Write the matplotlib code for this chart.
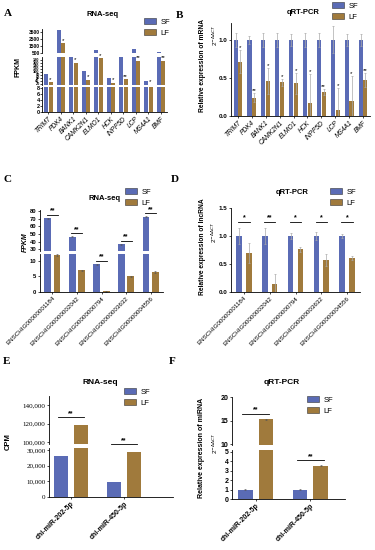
import numpy as np
import matplotlib
matplotlib.use('Agg')
import matplotlib.pyplot as plt
from matplotlib.patches import Patch

plt.rcParams['font.family'] = ['Liberation Sans', 'DejaVu Sans']
plt.rcParams['mathtext.fontset'] = 'dejavusans'

# ---- data ----
genes = ['TRIM7', 'PDK4', 'BANK1', 'CAMK2N1', 'ELMO1', 'HCK', 'INPP5D', 'LCP', 'MS4A1', 'BMF']
a_sf = [85, 3800, 260, 105, 900, 60, 230, 1100, 35, 600]
a_lf = [30, 1850, 160, 45, 190, 25, 50, 175, 9, 175]
a_sig = ['*', '*', '*', '*', '*', '*', '**', '**', '*', '**']

b_sf = [1, 1, 1, 1, 1, 1, 1, 1, 1, 1]
b_sf_err = [0.09, 0.05, 0.09, 0.09, 0.08, 0.09, 0.09, 0.18, 0.08, 0.08]
b_lf = [0.71, 0.24, 0.46, 0.44, 0.43, 0.17, 0.32, 0.08, 0.20, 0.47]
b_lf_err = [0.15, 0.06, 0.17, 0.05, 0.14, 0.38, 0.04, 0.29, 0.32, 0.09]
b_sig = ['*', '**', '*', '*', '*', '*', '**', '*', '*', '**']

lncs = ['ENSCHIG00000001184', 'ENSCHIG00000002042', 'ENSCHIG00000000794',
        'ENSCHIG00000003632', 'ENSCHIG00000004556']
c_sf = [70.5, 46.5, 8.8, 36.5, 72.5]
c_sf_err = [0.8, 0.6, 0.2, 0.8, 0.5]
c_lf = [11.8, 6.9, 0.2, 5.0, 6.4]
c_lf_err = [0.2, 0.2, 0.05, 0.2, 0.2]
c_sig = ['**', '**', '**', '**', '**']

d_sf = [1, 1, 1, 1, 1]
d_sf_err = [0.15, 0.15, 0.06, 0.08, 0.03]
d_lf = [0.69, 0.14, 0.76, 0.57, 0.61]
d_lf_err = [0.18, 0.19, 0.04, 0.10, 0.04]
d_sig = ['*', '**', '*', '*', '*']

mirnas = ['chi-miR-202-5p', 'chi-miR-450-5p']
e_sf = [26500, 9800]
e_lf = [118000, 28500]
e_sig = ['**', '**']

f_sf = [1.0, 1.0]
f_sf_err = [0.03, 0.03]
f_lf = [15.3, 3.55]
f_lf_err = [0.08, 0.04]
f_sig = ['**', '**']

SF = '#5a6bb5'
LF = '#a07a3c'

W, H = 375, 550
fig = plt.figure(figsize=(W / 100, H / 100), dpi=100)


def pax(l, t, r, b):
    return fig.add_axes([l / W, 1 - b / H, (r - l) / W, (b - t) / H])


def style(ax, bottom=True, size=4, bold=True):
    ax.spines['top'].set_visible(False)
    ax.spines['right'].set_visible(False)
    for s in ax.spines.values():
        s.set_linewidth(0.6)
    ax.tick_params(width=0.5, length=1.5, labelsize=size, pad=1)
    if bold:
        for lab in ax.get_yticklabels():
            lab.set_fontweight('bold')
    ax.set_facecolor('none')
    if not bottom:
        ax.spines['bottom'].set_visible(False)
        ax.tick_params(axis='x', bottom=False, labelbottom=False)


def px(ax, n):
    lo, hi = ax.get_ylim()
    return n * (hi - lo) / ax.bbox.height


def pick(segs, v):
    # segs ordered bottom -> top
    ch = segs[0]
    for s in segs:
        if s.get_ylim()[0] <= v:
            ch = s
    return ch


def star(segs, x, v, s, gap=0.5):
    ax = pick(segs, v)
    ax.text(x, v + px(ax, gap), s, ha='center', va='bottom', fontsize=4.5,
            clip_on=False)


def sig(segs, x0, x1, v, s, gap=4):
    ax = pick(segs, v)
    y = v + px(ax, gap)
    ax.plot([x0, x1], [y, y], color='k', lw=0.6, clip_on=False)
    ax.text((x0 + x1) / 2, y + px(ax, 0.3), s, ha='center', va='bottom',
            fontsize=5, fontweight='bold', clip_on=False)


def legend(x, y):
    h = [Patch(facecolor=SF, edgecolor='#333333', lw=0.4),
         Patch(facecolor=LF, edgecolor='#333333', lw=0.4)]
    fig.legend(h, ['SF', 'LF'], loc='upper left', bbox_to_anchor=(x / W, 1 - y / H),
               frameon=False, fontsize=5.5, handlelength=1.6, handleheight=0.8,
               labelspacing=0.5, handletextpad=0.6, borderpad=0, borderaxespad=0)


def ftext(x, y, s, **kw):
    fig.text(x / W, 1 - y / H, s, **kw)


# ---- Panel A ----
xa = np.arange(len(genes))
segs_a = []
for (t, b, lim, ticks, fs) in [(87, 112, (0, 8.3), [0, 2, 4, 6, 8], 4),
                               (57, 85, (10, 200), list(range(20, 181, 20)), 2.8),
                               (29, 53, (450, 3950), [500, 1500, 2500, 3500], 3.5)]:
    ax = pax(42, t, 167, b)
    ax.bar(xa - 0.18, a_sf, 0.32, color=SF)
    ax.bar(xa + 0.18, a_lf, 0.32, color=LF)
    ax.set_ylim(*lim)
    ax.set_xlim(-0.5, len(genes) - 0.5)
    ax.set_yticks(ticks)
    style(ax, bottom=(t == 87), size=fs)
    ax.tick_params(axis='y', length=1.2, pad=0.5)
    segs_a.append(ax)
segs_a[0].set_xticks(xa)
segs_a[0].set_xticklabels(genes, rotation=45, ha='right', rotation_mode='anchor',
                          fontsize=4.8, fontstyle='italic')
for i in range(len(genes)):
    star(segs_a, xa[i] + 0.18, a_lf[i], a_sig[i])
legend(144, 18)
ftext(18, 67, 'FPKM', rotation=90, ha='center', va='center', fontsize=5, fontweight='bold')
ftext(103, 15, 'RNA-seq', ha='center', va='center', fontsize=5.5, fontweight='bold')

# ---- Panel B ----
ax = pax(231, 23, 370, 116)
ax.bar(xa - 0.17, b_sf, 0.3, yerr=b_sf_err, color=SF, ecolor='#aaaaaa',
       error_kw=dict(lw=0.5, capsize=1, capthick=0.5))
ax.bar(xa + 0.17, b_lf, 0.3, yerr=b_lf_err, color=LF, ecolor='#aaaaaa',
       error_kw=dict(lw=0.5, capsize=1, capthick=0.5))
ax.set_ylim(0, 1.22)
ax.set_xlim(-0.5, len(genes) - 0.5)
ax.set_yticks([0, 0.5, 1.0])
ax.set_yticklabels(['0.0', '0.5', '1.0'])
style(ax, size=4.5)
ax.set_xticks(xa)
ax.set_xticklabels(genes, rotation=45, ha='right', rotation_mode='anchor',
                   fontsize=4.8, fontstyle='italic')
for i in range(len(genes)):
    star([ax], xa[i] + 0.17, b_lf[i] + b_lf_err[i], b_sig[i], gap=0)
legend(332, 2)
ftext(203, 65, 'Relative expression of mRNA', rotation=90, ha='center', va='center',
      fontsize=4.8, fontweight='bold')
ftext(215, 35, r'2$^{-\Delta\Delta CT}$', rotation=90, ha='center', va='center', fontsize=4.5)
ftext(303, 13, 'qRT-PCR', ha='center', va='center', fontsize=5.5, fontweight='bold')

# ---- Panel C ----
xc = np.arange(len(lncs))
segs_c = []
for (t, b, lim, ticks) in [(254, 292, (0, 12.1), [0, 5, 10]),
                           (210, 251, (28, 81), [30, 40, 50, 60, 70, 80])]:
    ax = pax(40, t, 163, b)
    ax.bar(xc - 0.19, c_sf, 0.28, yerr=c_sf_err, color=SF, ecolor='#555555',
           error_kw=dict(lw=0.4, capsize=1, capthick=0.4))
    ax.bar(xc + 0.19, c_lf, 0.28, yerr=c_lf_err, color=LF, ecolor='#555555',
           error_kw=dict(lw=0.4, capsize=1, capthick=0.4))
    ax.set_ylim(*lim)
    ax.set_xlim(-0.5, len(lncs) - 0.5)
    ax.set_yticks(ticks)
    style(ax, bottom=(t == 254), size=4.2)
    segs_c.append(ax)
segs_c[0].set_xticks(xc)
segs_c[0].set_xticklabels(lncs, rotation=45, ha='right', rotation_mode='anchor', fontsize=4.5)
for i in range(len(lncs)):
    sig(segs_c, xc[i] - 0.22, xc[i] + 0.22, c_sf[i] + c_sf_err[i], c_sig[i], gap=3)
legend(125, 188)
ftext(25, 242, 'FPKM', rotation=90, ha='center', va='center', fontsize=5,
      fontweight='bold', fontstyle='italic')
ftext(105, 198, 'RNA-seq', ha='center', va='center', fontsize=5.5, fontweight='bold')

# ---- Panel D ----
ax = pax(231, 208, 360, 292)
ax.bar(xc - 0.19, d_sf, 0.22, yerr=d_sf_err, color=SF, ecolor='#aaaaaa',
       error_kw=dict(lw=0.5, capsize=1, capthick=0.5))
ax.bar(xc + 0.19, d_lf, 0.22, yerr=d_lf_err, color=LF, ecolor='#aaaaaa',
       error_kw=dict(lw=0.5, capsize=1, capthick=0.5))
ax.set_ylim(0, 1.5)
ax.set_xlim(-0.5, len(lncs) - 0.5)
ax.set_yticks([0, 0.5, 1.0, 1.5])
ax.set_yticklabels(['0.0', '0.5', '1.0', '1.5'])
style(ax, size=4.5)
ax.set_xticks(xc)
ax.set_xticklabels(lncs, rotation=45, ha='right', rotation_mode='anchor', fontsize=4.5)
top_d = max(np.array(d_sf) + np.array(d_sf_err))
for i in range(len(lncs)):
    sig([ax], xc[i] - 0.22, xc[i] + 0.22, top_d, d_sig[i], gap=6)
legend(330, 188)
ftext(203, 247, 'Relative expression of lncRNA', rotation=90, ha='center', va='center',
      fontsize=4.8, fontweight='bold')
ftext(214, 232, r'2$^{-\Delta\Delta CT}$', rotation=90, ha='center', va='center', fontsize=4.5)
ftext(292, 193, 'qRT-PCR', ha='center', va='center', fontsize=5.5, fontweight='bold')

# ---- Panel E ----
xe = np.arange(len(mirnas))
segs_e = []
for (t, b, lim, ticks) in [(448, 497, (0, 31300), [0, 10000, 20000, 30000]),
                           (396, 444, (97800, 150000), [100000, 120000, 140000])]:
    ax = pax(49, t, 173, b)
    ax.bar(xe - 0.19, e_sf, 0.26, color=SF)
    ax.bar(xe + 0.19, e_lf, 0.26, color=LF)
    ax.set_ylim(*lim)
    ax.set_xlim(-0.415, 1.92)
    ax.set_yticks(ticks)
    ax.set_yticklabels([f'{v:,}' for v in ticks], fontfamily='Liberation Serif')
    style(ax, bottom=(t == 448), size=5, bold=False)
    segs_e.append(ax)
segs_e[0].set_xticks(xe)
segs_e[0].set_xticklabels(mirnas, rotation=45, ha='right', rotation_mode='anchor',
                          fontsize=5, fontweight='bold')
for i in range(len(mirnas)):
    sig(segs_e, xe[i] - 0.24, xe[i] + 0.24, e_lf[i], e_sig[i], gap=8)
legend(124, 388)
ftext(8, 442, 'CPM', rotation=90, ha='center', va='center', fontsize=5.5, fontweight='bold')
ftext(100, 382, 'RNA-seq', ha='center', va='center', fontsize=6, fontweight='bold')

# ---- Panel F ----
segs_f = []
for (t, b, lim, ticks) in [(450, 499, (0, 5.2), [0, 1, 2, 3, 4, 5]),
                           (397, 445, (9.8, 20.1), [10, 15, 20])]:
    ax = pax(232, t, 345, b)
    ax.bar(xe - 0.19, f_sf, 0.27, yerr=f_sf_err, color=SF, ecolor='#555555',
           error_kw=dict(lw=0.4, capsize=1, capthick=0.4))
    ax.bar(xe + 0.19, f_lf, 0.27, yerr=f_lf_err, color=LF, ecolor='#555555',
           error_kw=dict(lw=0.4, capsize=1, capthick=0.4))
    ax.set_ylim(*lim)
    ax.set_xlim(-0.43, 1.63)
    ax.set_yticks(ticks)
    style(ax, bottom=(t == 450), size=5)
    segs_f.append(ax)
segs_f[0].set_xticks(xe)
segs_f[0].set_xticklabels(mirnas, rotation=45, ha='right', rotation_mode='anchor',
                          fontsize=5, fontweight='bold')
for i in range(len(mirnas)):
    sig(segs_f, xe[i] - 0.24, xe[i] + 0.24, f_lf[i] + f_lf_err[i], f_sig[i], gap=5)
legend(307, 396)
ftext(202, 448, 'Relative expression of miRNA', rotation=90, ha='center', va='center',
      fontsize=5, fontweight='bold')
ftext(215, 443, r'2$^{-\Delta\Delta CT}$', rotation=90, ha='center', va='center', fontsize=4.5)
ftext(282, 382, 'qRT-PCR', ha='center', va='center', fontsize=6, fontweight='bold')

# ---- panel letters ----
for (x, y, s) in [(8, 14, 'A'), (180, 15, 'B'), (8, 180, 'C'), (175, 180, 'D'),
                  (7, 361, 'E'), (172, 361, 'F')]:
    ftext(x, y, s, ha='center', va='center', fontsize=8, fontweight='bold',
          fontfamily='Liberation Serif')

fig.savefig('out.png', dpi=100)
